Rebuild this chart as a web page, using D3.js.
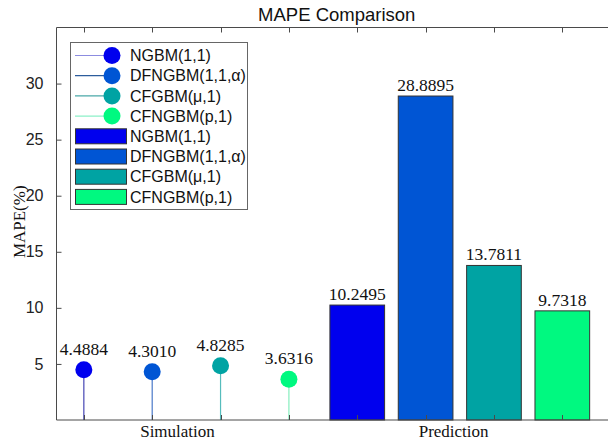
<!DOCTYPE html>
<html>
<head>
<meta charset="utf-8">
<script src="https://cdn.jsdelivr.net/npm/d3@7"></script>
<style>
  html, body { margin: 0; padding: 0; background: #fff; }
  svg { display: block; }
</style>
</head>
<body>
<svg id="chart" width="608" height="442"></svg>
<script>
// MAPE of four grey models on the simulation and prediction stages
const models = ["NGBM(1,1)", "DFNGBM(1,1,\u03b1)", "CFGBM(\u03bc,1)", "CFNGBM(p,1)"];
const groups = ["Simulation", "Prediction"];
const simulationMAPE = [4.4884, 4.3010, 4.8285, 3.6316];
const predictionMAPE = [10.2495, 28.8895, 13.7811, 9.7318];
const yTicks = [5, 10, 15, 20, 25, 30];
const xTicks = [1, 2, 3, 4, 5, 6, 7, 8];

const fillColors = ["#0000ee", "#0055d4", "#00a3a3", "#00f980"];
const stemColors = ["#4646b4", "#4a78c8", "#55bcbc", "#86eebe"];
const legendLineColors = ["#8c8ce0", "#2c5c9c", "#4aa8a8", "#8cf0c8"];

const svg = d3.select("#chart");
const plotLeft = 56.5, plotTop = 27.5, plotBottom = 420, plotRight = 617;

const x = d3.scaleLinear().domain([0.6, 8.8]).range([plotLeft, plotRight]);
const y = d3.scaleLinear().domain([0, 35]).range([plotBottom, plotTop]);

const axisColor = "#4a4a4a";
const sans = "'Liberation Sans', Arial, sans-serif";
const serif = "'Liberation Serif', 'Times New Roman', serif";

// prediction bars at positions 5..8
const barW = x(1.4) - x(0.6);
svg.append("g").selectAll("rect")
  .data(predictionMAPE)
  .join("rect")
  .attr("x", (d, i) => x(5 + i) - barW / 2)
  .attr("y", d => y(d))
  .attr("width", barW)
  .attr("height", d => y(0) - y(d))
  .attr("fill", (d, i) => fillColors[i])
  .attr("stroke", "#333")
  .attr("stroke-width", 1);

svg.append("g").selectAll("text")
  .data(predictionMAPE)
  .join("text")
  .attr("x", (d, i) => x(5 + i))
  .attr("y", d => y(d) - 5)
  .attr("text-anchor", "middle")
  .attr("font-family", serif)
  .attr("font-size", 17.5)
  .attr("fill", "#111")
  .text(d => d.toFixed(4));

// simulation stems at positions 1..4
const stems = svg.append("g");
stems.selectAll("line")
  .data(simulationMAPE)
  .join("line")
  .attr("x1", (d, i) => x(1 + i))
  .attr("x2", (d, i) => x(1 + i))
  .attr("y1", y(0))
  .attr("y2", d => y(d))
  .attr("stroke", (d, i) => stemColors[i])
  .attr("stroke-width", 1.2);
stems.selectAll("circle")
  .data(simulationMAPE)
  .join("circle")
  .attr("cx", (d, i) => x(1 + i))
  .attr("cy", d => y(d))
  .attr("r", 8.5)
  .attr("fill", (d, i) => fillColors[i]);
stems.selectAll("text")
  .data(simulationMAPE)
  .join("text")
  .attr("x", (d, i) => x(1 + i))
  .attr("y", d => y(d) - 15)
  .attr("text-anchor", "middle")
  .attr("font-family", serif)
  .attr("font-size", 17.5)
  .attr("fill", "#111")
  .text(d => d.toFixed(4));

// axes box
const frame = svg.append("g").attr("stroke", axisColor).attr("stroke-width", 1).attr("fill", "none");
frame.append("line").attr("x1", plotLeft).attr("x2", plotLeft).attr("y1", plotTop).attr("y2", plotBottom);
frame.append("line").attr("x1", plotLeft).attr("x2", plotRight).attr("y1", plotTop).attr("y2", plotTop);
frame.append("line").attr("x1", plotLeft).attr("x2", plotRight).attr("y1", plotBottom).attr("y2", plotBottom);

// inward ticks on top and bottom
const tickG = svg.append("g").attr("stroke", axisColor).attr("stroke-width", 1);
xTicks.forEach(t => {
  const px = Math.round(x(t)) + 0.5;
  tickG.append("line").attr("x1", px).attr("x2", px).attr("y1", plotTop).attr("y2", plotTop + 5);
  tickG.append("line").attr("x1", px).attr("x2", px).attr("y1", plotBottom).attr("y2", plotBottom - 5);
});

// y axis with inward ticks
const yAxis = d3.axisLeft(y).tickValues(yTicks).tickSizeInner(-5).tickSizeOuter(0).tickPadding(13);
const yg = svg.append("g").attr("transform", `translate(${plotLeft},0)`).call(yAxis);
yg.select(".domain").remove();
yg.selectAll(".tick line").attr("stroke", axisColor);
yg.selectAll(".tick text")
  .attr("font-family", sans)
  .attr("font-size", 16)
  .attr("fill", "#222");

// group labels
const groupPos = [2.37, 6.41];
svg.append("g").selectAll("text")
  .data(groups)
  .join("text")
  .attr("x", (d, i) => x(groupPos[i]))
  .attr("y", 437)
  .attr("text-anchor", "middle")
  .attr("font-family", serif)
  .attr("font-size", 17)
  .attr("fill", "#111")
  .text(d => d);

// y label
svg.append("text")
  .attr("transform", `translate(25,${(plotTop + plotBottom) / 2 - 2}) rotate(-90)`)
  .attr("text-anchor", "middle")
  .attr("font-family", serif)
  .attr("font-size", 17)
  .attr("fill", "#111")
  .text("MAPE(%)");

// title
svg.append("text")
  .attr("x", (plotLeft + plotRight) / 2)
  .attr("y", 21)
  .attr("text-anchor", "middle")
  .attr("font-family", sans)
  .attr("font-size", 18.5)
  .attr("fill", "#111")
  .text("MAPE Comparison");

// legend
const lg = svg.append("g");
lg.append("rect")
  .attr("x", 70.5).attr("y", 42.5).attr("width", 177).attr("height", 167)
  .attr("fill", "#fff").attr("stroke", "#666").attr("stroke-width", 1);
const rowY = i => 55.5 + i * 20.2;
models.forEach((m, i) => {
  const cy = rowY(i);
  lg.append("line").attr("x1", 75).attr("x2", 112).attr("y1", cy).attr("y2", cy)
    .attr("stroke", legendLineColors[i]).attr("stroke-width", 1.2);
  lg.append("circle").attr("cx", 112).attr("cy", cy).attr("r", 8.5).attr("fill", fillColors[i]);
  lg.append("text").attr("x", 130).attr("y", cy).attr("dy", "0.36em")
    .attr("font-family", sans).attr("font-size", 16).attr("fill", "#111").text(m);
});
models.forEach((m, i) => {
  const cy = rowY(4 + i);
  lg.append("rect").attr("x", 75.5).attr("y", cy - 7.5).attr("width", 51).attr("height", 15)
    .attr("fill", fillColors[i]).attr("stroke", "#333").attr("stroke-width", 1);
  lg.append("text").attr("x", 130).attr("y", cy).attr("dy", "0.36em")
    .attr("font-family", sans).attr("font-size", 16).attr("fill", "#111").text(m);
});
</script>
</body>
</html>
